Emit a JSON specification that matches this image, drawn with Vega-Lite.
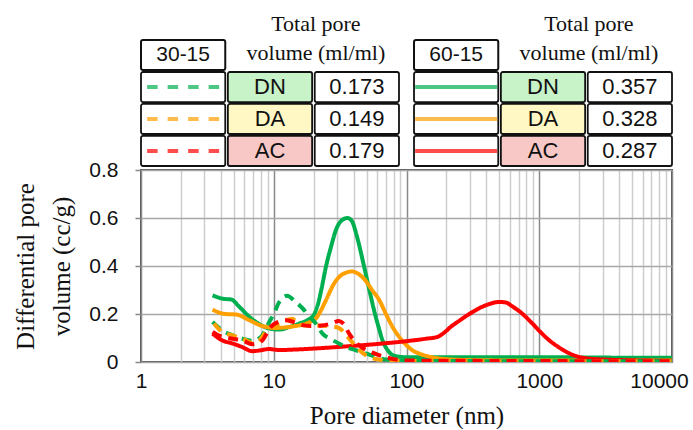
{
  "$schema": "https://vega.github.io/schema/vega-lite/v6.json",
  "background": "white",
  "padding": {"left": 12, "top": 13, "right": 0, "bottom": 0},
  "config": {"font": "Liberation Sans", "view": {"stroke": null}},
  "spacing": 4,
  "bounds": "flush",
  "resolve": {"scale": {"strokeDash": "independent"}},
  "datasets": {
    "table": [
      {"group": "30-15", "sample": "DN", "tpv": 0.173},
      {"group": "30-15", "sample": "DA", "tpv": 0.149},
      {"group": "30-15", "sample": "AC", "tpv": 0.179},
      {"group": "60-15", "sample": "DN", "tpv": 0.357},
      {"group": "60-15", "sample": "DA", "tpv": 0.328},
      {"group": "60-15", "sample": "AC", "tpv": 0.287}
    ],
    "curves": [
      {"set": "60-15", "sample": "DN", "d": 3.46, "v": 0.278},
      {"set": "60-15", "sample": "DN", "d": 4.1, "v": 0.264},
      {"set": "60-15", "sample": "DN", "d": 4.8, "v": 0.26},
      {"set": "60-15", "sample": "DN", "d": 5.5, "v": 0.23},
      {"set": "60-15", "sample": "DN", "d": 6.5, "v": 0.19},
      {"set": "60-15", "sample": "DN", "d": 7.8, "v": 0.157},
      {"set": "60-15", "sample": "DN", "d": 9.2, "v": 0.14},
      {"set": "60-15", "sample": "DN", "d": 11, "v": 0.135},
      {"set": "60-15", "sample": "DN", "d": 13, "v": 0.145},
      {"set": "60-15", "sample": "DN", "d": 15.5, "v": 0.16},
      {"set": "60-15", "sample": "DN", "d": 18, "v": 0.175},
      {"set": "60-15", "sample": "DN", "d": 20, "v": 0.195},
      {"set": "60-15", "sample": "DN", "d": 21.5, "v": 0.24},
      {"set": "60-15", "sample": "DN", "d": 23, "v": 0.31},
      {"set": "60-15", "sample": "DN", "d": 24.7, "v": 0.396},
      {"set": "60-15", "sample": "DN", "d": 27, "v": 0.48},
      {"set": "60-15", "sample": "DN", "d": 29.4, "v": 0.55},
      {"set": "60-15", "sample": "DN", "d": 32.5, "v": 0.59},
      {"set": "60-15", "sample": "DN", "d": 36, "v": 0.6},
      {"set": "60-15", "sample": "DN", "d": 39, "v": 0.585},
      {"set": "60-15", "sample": "DN", "d": 42, "v": 0.53},
      {"set": "60-15", "sample": "DN", "d": 48, "v": 0.396},
      {"set": "60-15", "sample": "DN", "d": 53, "v": 0.29},
      {"set": "60-15", "sample": "DN", "d": 57, "v": 0.215},
      {"set": "60-15", "sample": "DN", "d": 62, "v": 0.14},
      {"set": "60-15", "sample": "DN", "d": 66, "v": 0.09},
      {"set": "60-15", "sample": "DN", "d": 72, "v": 0.05},
      {"set": "60-15", "sample": "DN", "d": 78, "v": 0.03},
      {"set": "60-15", "sample": "DN", "d": 88, "v": 0.022},
      {"set": "60-15", "sample": "DN", "d": 100, "v": 0.02},
      {"set": "60-15", "sample": "DN", "d": 200, "v": 0.02},
      {"set": "60-15", "sample": "DN", "d": 500, "v": 0.02},
      {"set": "60-15", "sample": "DN", "d": 1000, "v": 0.02},
      {"set": "60-15", "sample": "DN", "d": 2000, "v": 0.019},
      {"set": "60-15", "sample": "DN", "d": 5000, "v": 0.018},
      {"set": "60-15", "sample": "DN", "d": 10000, "v": 0.018},
      {"set": "60-15", "sample": "DA", "d": 3.46, "v": 0.218},
      {"set": "60-15", "sample": "DA", "d": 4.3, "v": 0.2},
      {"set": "60-15", "sample": "DA", "d": 5.2, "v": 0.198},
      {"set": "60-15", "sample": "DA", "d": 6.5, "v": 0.175},
      {"set": "60-15", "sample": "DA", "d": 8.2, "v": 0.15},
      {"set": "60-15", "sample": "DA", "d": 10.4, "v": 0.142},
      {"set": "60-15", "sample": "DA", "d": 13.8, "v": 0.148},
      {"set": "60-15", "sample": "DA", "d": 18.5, "v": 0.165},
      {"set": "60-15", "sample": "DA", "d": 21, "v": 0.185},
      {"set": "60-15", "sample": "DA", "d": 24.7, "v": 0.257},
      {"set": "60-15", "sample": "DA", "d": 28, "v": 0.32},
      {"set": "60-15", "sample": "DA", "d": 31, "v": 0.354},
      {"set": "60-15", "sample": "DA", "d": 35, "v": 0.372},
      {"set": "60-15", "sample": "DA", "d": 39, "v": 0.377},
      {"set": "60-15", "sample": "DA", "d": 44, "v": 0.365},
      {"set": "60-15", "sample": "DA", "d": 49, "v": 0.34},
      {"set": "60-15", "sample": "DA", "d": 55, "v": 0.3},
      {"set": "60-15", "sample": "DA", "d": 62.5, "v": 0.257},
      {"set": "60-15", "sample": "DA", "d": 70, "v": 0.2},
      {"set": "60-15", "sample": "DA", "d": 78.5, "v": 0.146},
      {"set": "60-15", "sample": "DA", "d": 88, "v": 0.105},
      {"set": "60-15", "sample": "DA", "d": 99, "v": 0.072},
      {"set": "60-15", "sample": "DA", "d": 110, "v": 0.05},
      {"set": "60-15", "sample": "DA", "d": 125, "v": 0.035},
      {"set": "60-15", "sample": "DA", "d": 150, "v": 0.022},
      {"set": "60-15", "sample": "DA", "d": 180, "v": 0.014},
      {"set": "60-15", "sample": "DA", "d": 250, "v": 0.009},
      {"set": "60-15", "sample": "DA", "d": 400, "v": 0.007},
      {"set": "60-15", "sample": "DA", "d": 1000, "v": 0.006},
      {"set": "60-15", "sample": "DA", "d": 10000, "v": 0.006},
      {"set": "60-15", "sample": "AC", "d": 3.46, "v": 0.118},
      {"set": "60-15", "sample": "AC", "d": 4.1, "v": 0.09},
      {"set": "60-15", "sample": "AC", "d": 4.9, "v": 0.077},
      {"set": "60-15", "sample": "AC", "d": 5.8, "v": 0.062},
      {"set": "60-15", "sample": "AC", "d": 6.9, "v": 0.045},
      {"set": "60-15", "sample": "AC", "d": 7.8, "v": 0.048},
      {"set": "60-15", "sample": "AC", "d": 9.2, "v": 0.054},
      {"set": "60-15", "sample": "AC", "d": 11, "v": 0.05},
      {"set": "60-15", "sample": "AC", "d": 14.6, "v": 0.052},
      {"set": "60-15", "sample": "AC", "d": 20, "v": 0.056},
      {"set": "60-15", "sample": "AC", "d": 37, "v": 0.066},
      {"set": "60-15", "sample": "AC", "d": 60, "v": 0.075},
      {"set": "60-15", "sample": "AC", "d": 104, "v": 0.088},
      {"set": "60-15", "sample": "AC", "d": 140, "v": 0.097},
      {"set": "60-15", "sample": "AC", "d": 170, "v": 0.104},
      {"set": "60-15", "sample": "AC", "d": 195, "v": 0.125},
      {"set": "60-15", "sample": "AC", "d": 215, "v": 0.146},
      {"set": "60-15", "sample": "AC", "d": 250, "v": 0.172},
      {"set": "60-15", "sample": "AC", "d": 297, "v": 0.2},
      {"set": "60-15", "sample": "AC", "d": 394, "v": 0.236},
      {"set": "60-15", "sample": "AC", "d": 500, "v": 0.25},
      {"set": "60-15", "sample": "AC", "d": 560, "v": 0.248},
      {"set": "60-15", "sample": "AC", "d": 626, "v": 0.232},
      {"set": "60-15", "sample": "AC", "d": 750, "v": 0.2},
      {"set": "60-15", "sample": "AC", "d": 889, "v": 0.16},
      {"set": "60-15", "sample": "AC", "d": 1000, "v": 0.13},
      {"set": "60-15", "sample": "AC", "d": 1192, "v": 0.09},
      {"set": "60-15", "sample": "AC", "d": 1416, "v": 0.06},
      {"set": "60-15", "sample": "AC", "d": 1700, "v": 0.035},
      {"set": "60-15", "sample": "AC", "d": 1990, "v": 0.021},
      {"set": "60-15", "sample": "AC", "d": 2500, "v": 0.013},
      {"set": "60-15", "sample": "AC", "d": 3160, "v": 0.01},
      {"set": "60-15", "sample": "AC", "d": 5000, "v": 0.007},
      {"set": "60-15", "sample": "AC", "d": 10000, "v": 0.005},
      {"set": "30-15", "sample": "DN", "d": 3.46, "v": 0.167},
      {"set": "30-15", "sample": "DN", "d": 4.1, "v": 0.132},
      {"set": "30-15", "sample": "DN", "d": 4.9, "v": 0.111},
      {"set": "30-15", "sample": "DN", "d": 5.8, "v": 0.097},
      {"set": "30-15", "sample": "DN", "d": 6.9, "v": 0.088},
      {"set": "30-15", "sample": "DN", "d": 8, "v": 0.104},
      {"set": "30-15", "sample": "DN", "d": 9.25, "v": 0.167},
      {"set": "30-15", "sample": "DN", "d": 10, "v": 0.2},
      {"set": "30-15", "sample": "DN", "d": 11, "v": 0.25},
      {"set": "30-15", "sample": "DN", "d": 12.6, "v": 0.276},
      {"set": "30-15", "sample": "DN", "d": 14.6, "v": 0.25},
      {"set": "30-15", "sample": "DN", "d": 16.4, "v": 0.225},
      {"set": "30-15", "sample": "DN", "d": 18.5, "v": 0.19},
      {"set": "30-15", "sample": "DN", "d": 20.8, "v": 0.16},
      {"set": "30-15", "sample": "DN", "d": 23.3, "v": 0.118},
      {"set": "30-15", "sample": "DN", "d": 27, "v": 0.095},
      {"set": "30-15", "sample": "DN", "d": 31, "v": 0.077},
      {"set": "30-15", "sample": "DN", "d": 36, "v": 0.06},
      {"set": "30-15", "sample": "DN", "d": 41.6, "v": 0.049},
      {"set": "30-15", "sample": "DN", "d": 50, "v": 0.035},
      {"set": "30-15", "sample": "DN", "d": 58.6, "v": 0.021},
      {"set": "30-15", "sample": "DN", "d": 70, "v": 0.01},
      {"set": "30-15", "sample": "DN", "d": 88, "v": 0.006},
      {"set": "30-15", "sample": "DN", "d": 150, "v": 0.004},
      {"set": "30-15", "sample": "DN", "d": 10000, "v": 0.003},
      {"set": "30-15", "sample": "DA", "d": 3.55, "v": 0.16},
      {"set": "30-15", "sample": "DA", "d": 4.1, "v": 0.125},
      {"set": "30-15", "sample": "DA", "d": 4.9, "v": 0.111},
      {"set": "30-15", "sample": "DA", "d": 6.2, "v": 0.09},
      {"set": "30-15", "sample": "DA", "d": 6.9, "v": 0.079},
      {"set": "30-15", "sample": "DA", "d": 7.8, "v": 0.09},
      {"set": "30-15", "sample": "DA", "d": 8.7, "v": 0.125},
      {"set": "30-15", "sample": "DA", "d": 10.4, "v": 0.153},
      {"set": "30-15", "sample": "DA", "d": 12.3, "v": 0.174},
      {"set": "30-15", "sample": "DA", "d": 13.8, "v": 0.18},
      {"set": "30-15", "sample": "DA", "d": 15, "v": 0.165},
      {"set": "30-15", "sample": "DA", "d": 17, "v": 0.152},
      {"set": "30-15", "sample": "DA", "d": 20, "v": 0.152},
      {"set": "30-15", "sample": "DA", "d": 25, "v": 0.15},
      {"set": "30-15", "sample": "DA", "d": 30, "v": 0.145},
      {"set": "30-15", "sample": "DA", "d": 33, "v": 0.13},
      {"set": "30-15", "sample": "DA", "d": 36, "v": 0.105},
      {"set": "30-15", "sample": "DA", "d": 40, "v": 0.075},
      {"set": "30-15", "sample": "DA", "d": 44, "v": 0.05},
      {"set": "30-15", "sample": "DA", "d": 52, "v": 0.021},
      {"set": "30-15", "sample": "DA", "d": 62, "v": 0.01},
      {"set": "30-15", "sample": "DA", "d": 70, "v": 0.006},
      {"set": "30-15", "sample": "DA", "d": 100, "v": 0.004},
      {"set": "30-15", "sample": "DA", "d": 10000, "v": 0.003},
      {"set": "30-15", "sample": "AC", "d": 3.46, "v": 0.125},
      {"set": "30-15", "sample": "AC", "d": 4.1, "v": 0.104},
      {"set": "30-15", "sample": "AC", "d": 4.9, "v": 0.097},
      {"set": "30-15", "sample": "AC", "d": 5.8, "v": 0.09},
      {"set": "30-15", "sample": "AC", "d": 6.9, "v": 0.074},
      {"set": "30-15", "sample": "AC", "d": 8.2, "v": 0.09},
      {"set": "30-15", "sample": "AC", "d": 9.25, "v": 0.139},
      {"set": "30-15", "sample": "AC", "d": 10.8, "v": 0.167},
      {"set": "30-15", "sample": "AC", "d": 12.3, "v": 0.174},
      {"set": "30-15", "sample": "AC", "d": 14, "v": 0.167},
      {"set": "30-15", "sample": "AC", "d": 16, "v": 0.155},
      {"set": "30-15", "sample": "AC", "d": 19, "v": 0.15},
      {"set": "30-15", "sample": "AC", "d": 23, "v": 0.152},
      {"set": "30-15", "sample": "AC", "d": 27, "v": 0.16},
      {"set": "30-15", "sample": "AC", "d": 31, "v": 0.171},
      {"set": "30-15", "sample": "AC", "d": 34, "v": 0.155},
      {"set": "30-15", "sample": "AC", "d": 37, "v": 0.118},
      {"set": "30-15", "sample": "AC", "d": 41, "v": 0.085},
      {"set": "30-15", "sample": "AC", "d": 45, "v": 0.065},
      {"set": "30-15", "sample": "AC", "d": 55, "v": 0.04},
      {"set": "30-15", "sample": "AC", "d": 65, "v": 0.025},
      {"set": "30-15", "sample": "AC", "d": 80, "v": 0.012},
      {"set": "30-15", "sample": "AC", "d": 100, "v": 0.006},
      {"set": "30-15", "sample": "AC", "d": 10000, "v": 0.003}
    ]
  },
  "vconcat": [
    {
      "width": 531,
      "height": 126,
      "data": {"name": "table"},
      "layer": [
        {
          "transform": [{"filter": "datum.sample == 'DN'"}],
          "mark": {"type": "rect", "fill": "white", "stroke": "#111", "strokeWidth": 2, "cornerRadius": 2},
          "encoding": {
            "x": {"field": "group", "type": "nominal", "axis": null, "scale": {"domain": ["30-15", "60-15"], "paddingInner": 0.055, "paddingOuter": 0}},
            "xOffset": {"datum": "sample", "type": "nominal", "scale": {"domain": ["sample", "label", "value"], "paddingInner": 0.03, "paddingOuter": 0}},
            "y": {"datum": "header", "type": "nominal", "axis": null, "scale": {"domain": ["header", "DN", "DA", "AC"], "paddingInner": 0.06, "paddingOuter": 0}}
          }
        },
        {
          "transform": [{"filter": "datum.sample == 'DN'"}],
          "mark": {"type": "text", "fontSize": 21, "color": "#111", "baseline": "middle"},
          "encoding": {
            "x": {"field": "group", "type": "nominal", "axis": null, "scale": {"domain": ["30-15", "60-15"], "paddingInner": 0.055, "paddingOuter": 0}},
            "xOffset": {"datum": "sample", "type": "nominal", "scale": {"domain": ["sample", "label", "value"], "paddingInner": 0.03, "paddingOuter": 0}},
            "y": {"datum": "header", "type": "nominal", "axis": null, "scale": {"domain": ["header", "DN", "DA", "AC"], "paddingInner": 0.06, "paddingOuter": 0}},
            "text": {"field": "group"}
          }
        },
        {
          "transform": [{"filter": "datum.sample == 'DN'"}],
          "mark": {"type": "text", "font": "Liberation Serif", "fontSize": 22, "color": "#111", "baseline": "middle", "lineHeight": 29, "dy": -31, "dx": -41, "text": ["Total pore", "volume (ml/ml)"]},
          "encoding": {
            "x": {"field": "group", "type": "nominal", "axis": null, "scale": {"domain": ["30-15", "60-15"], "paddingInner": 0.055, "paddingOuter": 0}},
            "xOffset": {"datum": "value", "type": "nominal", "scale": {"domain": ["sample", "label", "value"], "paddingInner": 0.03, "paddingOuter": 0}},
            "y": {"datum": "header", "type": "nominal", "axis": null, "scale": {"domain": ["header", "DN", "DA", "AC"], "paddingInner": 0.06, "paddingOuter": 0}}
          }
        },
        {
          "mark": {"type": "rect", "fill": "white", "stroke": "#111", "strokeWidth": 1.8, "cornerRadius": 2},
          "encoding": {
            "x": {"field": "group", "type": "nominal", "axis": null, "scale": {"domain": ["30-15", "60-15"], "paddingInner": 0.055, "paddingOuter": 0}},
            "xOffset": {"datum": "sample", "type": "nominal", "scale": {"domain": ["sample", "label", "value"], "paddingInner": 0.03, "paddingOuter": 0}},
            "y": {"field": "sample", "type": "nominal", "axis": null, "scale": {"domain": ["header", "DN", "DA", "AC"], "paddingInner": 0.06, "paddingOuter": 0}}
          }
        },
        {
          "mark": {"type": "tick", "orient": "horizontal", "size": 82, "thickness": 0, "filled": false, "strokeWidth": 4, "strokeDashOffset": 15.5},
          "encoding": {
            "x": {"field": "group", "type": "nominal", "axis": null, "scale": {"domain": ["30-15", "60-15"], "paddingInner": 0.055, "paddingOuter": 0}},
            "xOffset": {"datum": "sample", "type": "nominal", "scale": {"domain": ["sample", "label", "value"], "paddingInner": 0.03, "paddingOuter": 0}},
            "y": {"field": "sample", "type": "nominal", "axis": null, "scale": {"domain": ["header", "DN", "DA", "AC"], "paddingInner": 0.06, "paddingOuter": 0}},
            "color": {"field": "sample", "type": "nominal", "legend": null, "scale": {"domain": ["DN", "DA", "AC"], "range": ["#00b050", "#ffa000", "#ff0000"]}},
            "strokeDash": {"field": "group", "type": "nominal", "legend": null, "scale": {"domain": ["30-15", "60-15"], "range": [[10.5, 10], [1, 0]]}}
          }
        },
        {
          "mark": {"type": "rect", "stroke": "#111", "strokeWidth": 1.8, "cornerRadius": 2},
          "encoding": {
            "x": {"field": "group", "type": "nominal", "axis": null, "scale": {"domain": ["30-15", "60-15"], "paddingInner": 0.055, "paddingOuter": 0}},
            "xOffset": {"datum": "label", "type": "nominal", "scale": {"domain": ["sample", "label", "value"], "paddingInner": 0.03, "paddingOuter": 0}},
            "y": {"field": "sample", "type": "nominal", "axis": null, "scale": {"domain": ["header", "DN", "DA", "AC"], "paddingInner": 0.06, "paddingOuter": 0}},
            "fill": {"field": "sample", "type": "nominal", "legend": null, "scale": {"domain": ["DN", "DA", "AC"], "range": ["#c8f2c8", "#fff8c4", "#f7c8c6"]}}
          }
        },
        {
          "mark": {"type": "text", "fontSize": 22, "color": "#111", "baseline": "middle"},
          "encoding": {
            "x": {"field": "group", "type": "nominal", "axis": null, "scale": {"domain": ["30-15", "60-15"], "paddingInner": 0.055, "paddingOuter": 0}},
            "xOffset": {"datum": "label", "type": "nominal", "scale": {"domain": ["sample", "label", "value"], "paddingInner": 0.03, "paddingOuter": 0}},
            "y": {"field": "sample", "type": "nominal", "axis": null, "scale": {"domain": ["header", "DN", "DA", "AC"], "paddingInner": 0.06, "paddingOuter": 0}},
            "text": {"field": "sample"}
          }
        },
        {
          "mark": {"type": "rect", "fill": "white", "stroke": "#111", "strokeWidth": 1.8, "cornerRadius": 2},
          "encoding": {
            "x": {"field": "group", "type": "nominal", "axis": null, "scale": {"domain": ["30-15", "60-15"], "paddingInner": 0.055, "paddingOuter": 0}},
            "xOffset": {"datum": "value", "type": "nominal", "scale": {"domain": ["sample", "label", "value"], "paddingInner": 0.03, "paddingOuter": 0}},
            "y": {"field": "sample", "type": "nominal", "axis": null, "scale": {"domain": ["header", "DN", "DA", "AC"], "paddingInner": 0.06, "paddingOuter": 0}}
          }
        },
        {
          "mark": {"type": "text", "fontSize": 22, "color": "#111", "baseline": "middle"},
          "encoding": {
            "x": {"field": "group", "type": "nominal", "axis": null, "scale": {"domain": ["30-15", "60-15"], "paddingInner": 0.055, "paddingOuter": 0}},
            "xOffset": {"datum": "value", "type": "nominal", "scale": {"domain": ["sample", "label", "value"], "paddingInner": 0.03, "paddingOuter": 0}},
            "y": {"field": "sample", "type": "nominal", "axis": null, "scale": {"domain": ["header", "DN", "DA", "AC"], "paddingInner": 0.06, "paddingOuter": 0}},
            "text": {"field": "tpv", "type": "quantitative", "format": ".3f"}
          }
        }
      ]
    },
    {
      "width": 531,
      "height": 192,
      "view": {"stroke": "#555", "strokeWidth": 2},
      "data": {"name": "curves"},
      "mark": {"type": "line", "interpolate": "monotone", "strokeWidth": 4, "clip": true},
      "encoding": {
        "x": {
          "field": "d", "type": "quantitative",
          "scale": {"type": "log", "domain": [1, 10000], "nice": false},
          "axis": {
            "title": "Pore diameter (nm)",
            "values": [1, 2, 3, 4, 5, 6, 7, 8, 9, 10, 20, 30, 40, 50, 60, 70, 80, 90, 100, 200, 300, 400, 500, 600, 700, 800, 900, 1000, 2000, 3000, 4000, 5000, 6000, 7000, 8000, 9000, 10000],
            "format": "d",
            "labelExpr": "indexof([1, 10, 100, 1000, 10000], datum.value) >= 0 ? datum.label : ''",
            "labelOverlap": false,
            "labelFlush": false,
            "labelBound": false,
            "labelOffset": {"condition": {"test": "datum.value == 10000", "value": -13}, "value": 0},
            "labelFontSize": 21,
            "labelColor": "#111",
            "labelPadding": 8,
            "ticks": false,
            "domain": false,
            "grid": true,
            "gridColor": {"condition": {"test": "indexof([1, 10, 100, 1000, 10000], datum.value) >= 0", "value": "#8a8a8a"}, "value": "#cdcdcd"},
            "gridWidth": 1.5,
            "titleFont": "Liberation Serif",
            "titleFontSize": 25,
            "titleFontWeight": "normal",
            "titleColor": "#111",
            "titlePadding": 12
          }
        },
        "y": {
          "field": "v", "type": "quantitative",
          "scale": {"domain": [0, 0.8], "nice": false},
          "axis": {
            "title": ["Differential pore", "volume (cc/g)"],
            "values": [0, 0.2, 0.4, 0.6, 0.8],
            "format": "~g",
            "labelFontSize": 21,
            "labelColor": "#111",
            "labelPadding": 17,
            "tickSize": 6,
            "tickColor": "#888",
            "tickWidth": 1.5,
            "domain": false,
            "gridColor": "#a8a8a8",
            "gridWidth": 1.5,
            "titleFont": "Liberation Serif",
            "titleFontSize": 25,
            "titleFontWeight": "normal",
            "titleColor": "#111",
            "titleLineHeight": 36,
            "titlePadding": 14
          }
        },
        "color": {"field": "sample", "type": "nominal", "legend": null, "scale": {"domain": ["DN", "DA", "AC"], "range": ["#00b050", "#ffa000", "#ff0000"]}},
        "strokeDash": {"field": "set", "type": "nominal", "legend": null, "scale": {"domain": ["30-15", "60-15"], "range": [[10, 7], [1, 0]]}}
      }
    }
  ]
}
